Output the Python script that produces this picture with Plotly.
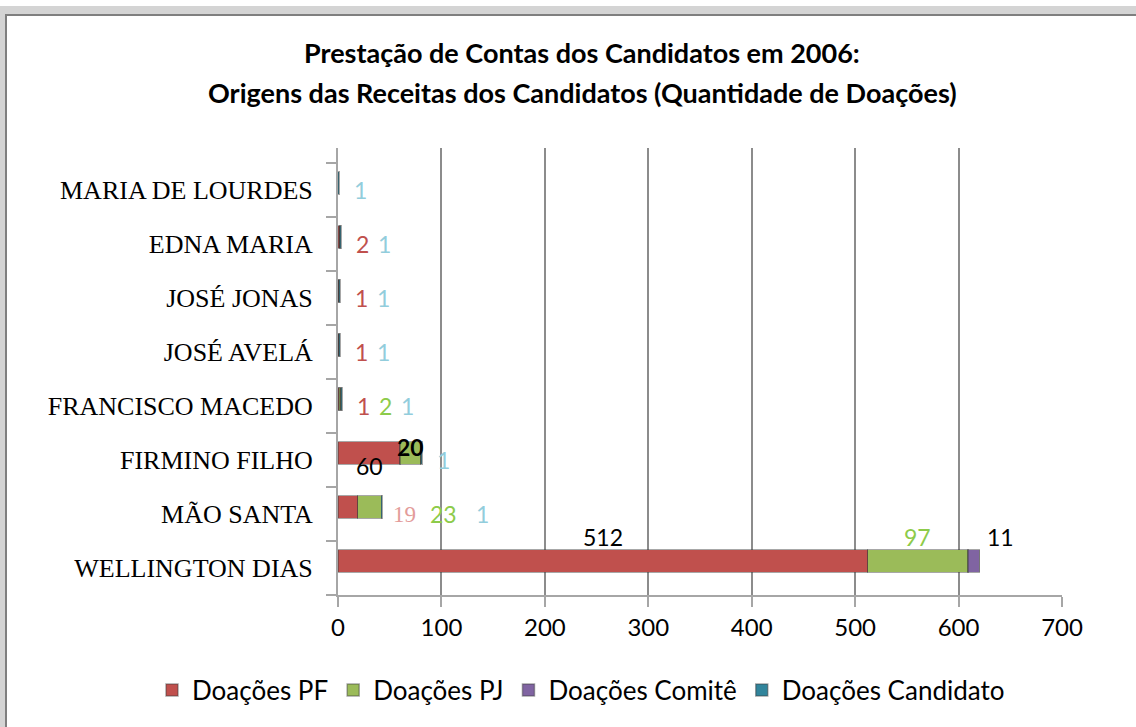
import plotly.graph_objects as go

# ---------------- data ----------------
categories = ["WELLINGTON DIAS", "MÃO SANTA", "FIRMINO FILHO", "FRANCISCO MACEDO",
              "JOSÉ AVELÁ", "JOSÉ JONAS", "EDNA MARIA", "MARIA DE LOURDES"]
doacoes_pf = [512, 19, 60, 1, 1, 1, 2, 0]
doacoes_pj = [97, 23, 20, 2, 0, 0, 0, 0]
doacoes_comite = [11, 0, 0, 0, 0, 0, 0, 0]
doacoes_candidato = [0, 1, 1, 1, 1, 1, 1, 1]
x_ticks = [0, 100, 200, 300, 400, 500, 600, 700]

title_1 = "Prestação de Contas dos Candidatos em 2006:"
title_2 = "Origens das Receitas dos Candidatos (Quantidade de Doações)"

series = [
    ("Doações PF", doacoes_pf, "#C0504D", "#C0504D"),
    ("Doações PJ", doacoes_pj, "#9BBB59", "#8DCB4A"),
    ("Doações Comitê", doacoes_comite, "#8064A2", "#000000"),
    ("Doações Candidato", doacoes_candidato, "#31859C", "#92CDDC"),
]

# ---------------- layout geometry ----------------
W, H = 1136, 727
L, R, T, B = 338, 74, 148, 132
PW, PH = W - L - R, H - T - B


def px_x(p):
    return (p - L) / PW


def px_y(p):
    return (H - B - p) / PH


fig = go.Figure()
for name, vals, col, _ in series:
    fig.add_trace(go.Bar(
        y=categories, x=vals, name=name, orientation="h",
        marker=dict(color=col, line=dict(color="rgba(60,60,60,0.45)", width=1.5)),
        width=0.42, offset=-0.08, hoverinfo="x+name",
    ))

# ---------------- data labels ----------------
label_font = "Lato, Calibri, Carlito, sans-serif"
overrides = {
    ("Doações PF", "FIRMINO FILHO"): dict(color="#000000", yshift=-6),
    ("Doações PJ", "FIRMINO FILHO"): dict(color="#000000", yshift=13, bold=True),
    ("Doações PF", "MÃO SANTA"): dict(color="#E39C9A", family="Liberation Serif, serif"),
    ("Doações PF", "WELLINGTON DIAS"): dict(color="#000000"),
}
annotations = []
for i, cat in enumerate(categories):
    total = sum(s[1][i] for s in series)
    start = 0
    next_out = total + 21
    for name, vals, col, lab_col in series:
        v = vals[i]
        if v == 0:
            continue
        txt = str(v)
        if total >= 60 and v >= 15:
            xpos = start + v / 2
        else:
            xpos = next_out
            next_out += 4 + 17 * len(txt)
        start += v
        ov = overrides.get((name, cat), {})
        ysh = ov.get("yshift", 0)
        if cat == "WELLINGTON DIAS":
            ysh = 31
        annotations.append(dict(
            x=xpos, y=cat, xref="x", yref="y", showarrow=False,
            text=("<b>%s</b>" % txt) if ov.get("bold") else txt,
            font=dict(family=ov.get("family", label_font), size=23,
                      color=ov.get("color", lab_col)),
            yshift=ysh, xanchor="center", yanchor="middle",
        ))

# titles
for txt, py in [(title_1, 53), (title_2, 92)]:
    annotations.append(dict(
        x=px_x(582), y=px_y(py), xref="paper", yref="paper", showarrow=False,
        text="<b>%s</b>" % txt, xanchor="center", yanchor="middle",
        font=dict(family="Lato, Calibri, sans-serif", size=27, color="#000000"),
    ))

# frame with shadow
shapes = [
    dict(type="rect", xref="paper", yref="paper",
         x0=px_x(3), x1=px_x(1150), y0=px_y(740), y1=px_y(10),
         line=dict(color="#d4d4d4", width=8), layer="below"),
    dict(type="rect", xref="paper", yref="paper",
         x0=px_x(6), x1=px_x(1150), y0=px_y(740), y1=px_y(15),
         line=dict(color="#7f7f7f", width=2), layer="below"),
]

fig.update_layout(
    width=W, height=H, barmode="stack",
    margin=dict(l=L, r=R, t=T, b=B, pad=0, autoexpand=False),
    paper_bgcolor="white", plot_bgcolor="white",
    annotations=annotations, shapes=shapes,
    legend=dict(orientation="h", x=px_x(152), xanchor="left",
                y=px_y(690), yanchor="middle",
                font=dict(family=label_font, size=26, color="#000000"),
                itemwidth=30, traceorder="normal"),
    xaxis=dict(range=[0, 700], tickvals=x_ticks, showgrid=True,
               gridcolor="#8c8c8c", gridwidth=2, zeroline=False,
               showline=True, linecolor="#a6a6a6", linewidth=2,
               ticks="outside", ticklen=10, tickcolor="#a6a6a6", tickwidth=2,
               automargin=False,
               tickfont=dict(family=label_font, size=24, color="#000000")),
    yaxis=dict(categoryorder="array", categoryarray=categories,
               range=[-0.5, 7.78], showgrid=False, zeroline=False,
               showline=True, linecolor="#a6a6a6", linewidth=2,
               ticks="outside", ticklen=10, tickcolor="#a6a6a6", tickwidth=2,
               tickson="boundaries", ticklabelstandoff=18, automargin=False,
               tickfont=dict(family="Liberation Serif, Times New Roman, serif",
                             size=26, color="#000000")),
    bargap=0.58,
)

fig.write_html("out.html", config={"displayModeBar": False},
               post_script="document.body.style.margin='0';")
